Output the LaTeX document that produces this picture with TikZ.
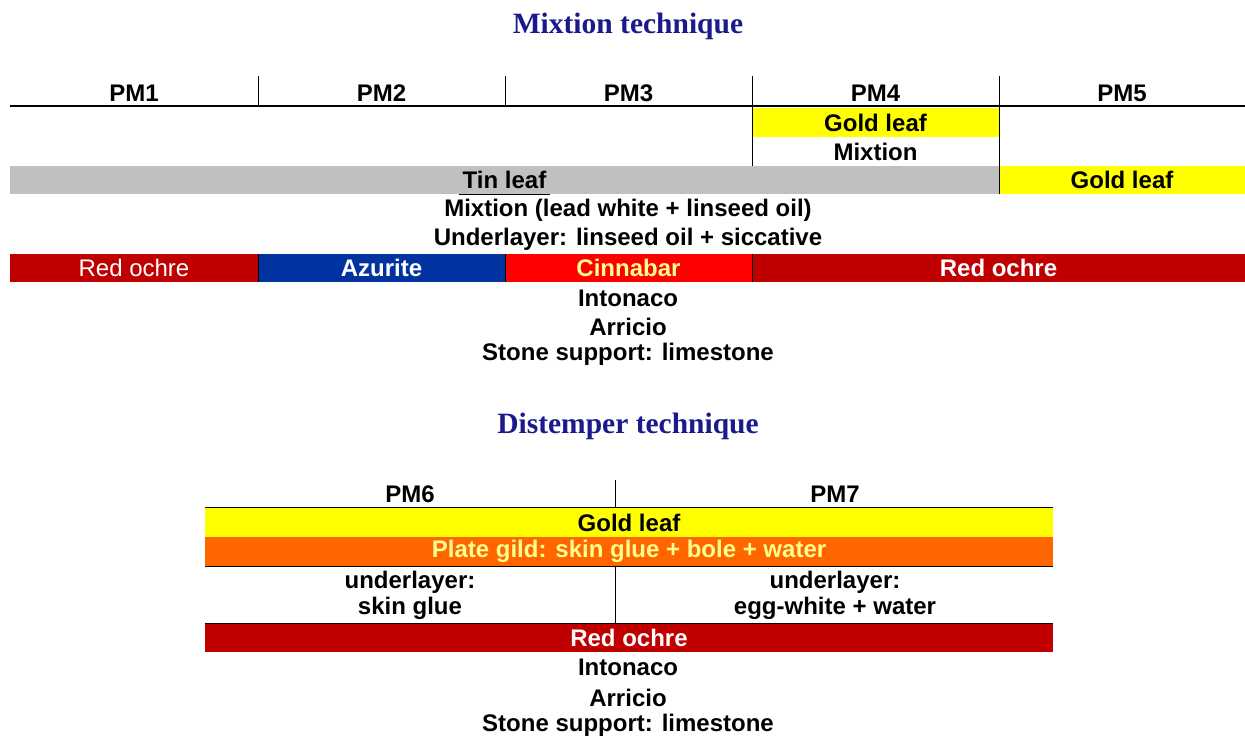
\documentclass[tikz,border=0pt]{standalone}
\usepackage{fontspec}
\setmainfont{Liberation Sans}
\newfontfamily\titlefont{Liberation Serif}
\definecolor{titleblue}{RGB}{26,26,140}
\definecolor{tingray}{RGB}{192,192,192}
\definecolor{goldy}{RGB}{255,255,0}
\definecolor{ochre}{RGB}{192,0,0}
\definecolor{azur}{RGB}{0,51,160}
\definecolor{cinna}{RGB}{255,0,0}
\definecolor{paleyel}{RGB}{255,255,140}
\definecolor{plateor}{RGB}{255,102,0}
\begin{document}
\begin{tikzpicture}[x=1pt,y=-1pt,
  txt/.style={inner sep=0pt,font=\fontsize{24}{26}\selectfont\bfseries,align=center},
  lbl/.style={txt,yshift=-1.5pt},
  band/.style={txt,minimum height=28pt},
  ttl/.style={inner sep=0pt,yshift=-2.5pt,text=titleblue,font=\titlefont\fontsize{29.5}{32}\selectfont\bfseries},
  rule/.style={line width=1.2pt,black},
  thin/.style={line width=0.9pt,black}]
\useasboundingbox[fill=white] (0,0) rectangle (1245,738);
% ---------- Mixtion technique ----------
\node[ttl] (t1) at (628,24) {Mixtion technique};
\node[lbl] (pm1) at (134,92) {PM1};
\node[lbl] (pm2) at (381.5,92) {PM2};
\node[lbl] (pm3) at (628.5,92) {PM3};
\node[lbl] (pm4) at (875.5,92) {PM4};
\node[lbl] (pm5) at (1122,92) {PM5};
\node[band,fill=goldy,minimum width=247pt,minimum height=29pt] (g4) at (875.5,122.5) {Gold leaf};
\node[lbl] (mx4) at (875.5,150) {Mixtion};
\node[band,fill=tingray,minimum width=989pt] (tin) at (504.5,180) {};
\node[txt] (tinl) at (504.5,180) {Tin leaf};
\node[band,fill=goldy,minimum width=246pt] (g5) at (1122,180) {Gold leaf};
\node[lbl] (mx) at (628,209) {Mixtion (lead white + linseed oil)};
\node[lbl] (ul) at (628,238) {Underlayer: linseed oil + siccative};
\node[band,fill=ochre,text=white,minimum width=248pt,font=\fontsize{24}{26}\selectfont] (ro1) at (134,268) {Red ochre};
\node[band,fill=azur,text=white,minimum width=247pt] (az) at (381.5,268) {Azurite};
\node[band,fill=cinna,text=paleyel,minimum width=247pt] (ci) at (628.5,268) {Cinnabar};
\node[band,fill=ochre,text=white,minimum width=493pt] (ro2) at (998.5,268) {Red ochre};
\node[lbl] (int1) at (628,297) {Intonaco};
\node[lbl] (arr1) at (628,325) {Arricio};
\node[lbl] (st1) at (628,353) {Stone support: limestone};
% lines
\coordinate (hl) at (10,106);
\coordinate (hr) at (1245,106);
\draw[rule] (hl) -- (hr);
\draw[thin] (258,76) -- (258,106);
\draw[thin] (505,76) -- (505,106);
\draw[thin] (752,76) -- (752,166);
\draw[thin] (999,76) -- (999,194);
\draw[thin] (ro1.north east) -- (ro1.south east);
\draw[thin] (az.north east) -- (az.south east);
\draw[thin] (ci.north east) -- (ci.south east);
\draw[thin] ([xshift=-4pt]tinl.west |- tin.south) -- ([xshift=4pt]tinl.east |- tin.south);
% ---------- Distemper technique ----------
\node[ttl] (t2) at (628,424) {Distemper technique};
\node[lbl] (pm6) at (410,493) {PM6};
\node[lbl] (pm7) at (835,493) {PM7};
\node[band,fill=goldy,minimum width=848pt,minimum height=29pt] (gd) at (629,522.5) {Gold leaf};
\node[band,fill=plateor,text=paleyel,minimum width=848pt,minimum height=29pt] (pg) at (629,551.5) {Plate gild: skin glue + bole + water};
\node[lbl] (u6) at (410,594) {underlayer:\\skin glue};
\node[lbl] (u7) at (835,594) {underlayer:\\egg-white + water};
\node[band,fill=ochre,text=white,minimum width=848pt] (rod) at (629,638) {Red ochre};
\node[lbl] (int2) at (628,666) {Intonaco};
\node[lbl] (arr2) at (628,696) {Arricio};
\node[lbl] (st2) at (628,724) {Stone support: limestone};
\draw[thin] (615,480) -- (615,508);
\draw[rule] (gd.north west) -- (gd.north east);
\draw[rule] (pg.south west) -- (pg.south east);
\draw[thin] (615,566) -- (615,624);
\draw[rule] (rod.north west) -- (rod.north east);
\end{tikzpicture}
\end{document}
